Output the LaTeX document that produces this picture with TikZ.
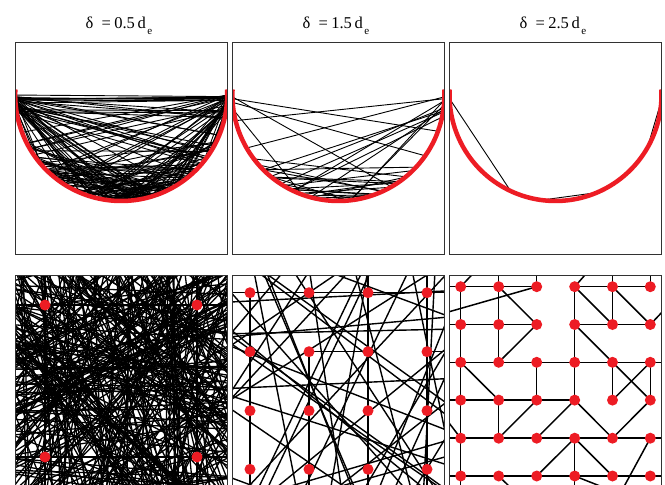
\documentclass[tikz,border=0pt]{standalone}
\usepackage{fontspec}
\setmainfont{Liberation Serif}
\definecolor{dotred}{RGB}{237,28,36}
\definecolor{frame}{RGB}{50,50,50}
\tikzset{
  frm/.style={draw=frame, line width=0.9pt},
  chord/.style={black, line width=0.9pt},
  rline/.style={black, line width=1.4pt},
  gline/.style={black, line width=1.5pt},
  redarc/.style={dotred, line width=4.5pt},
  rdot/.style={circle, fill=dotred, inner sep=0pt, minimum size=11pt},
  ttl/.style={font=\fontsize{16.5}{18}\selectfont, anchor=base, inner sep=0pt},
}
\newcommand{\ttltext}[1]{δ\hspace{0.5em}=\hspace{0.2em}#1\,d\kern1.5pt\raisebox{-6pt}{\fontsize{11}{11}\selectfont e}}
\begin{document}
\begin{tikzpicture}[x=1pt,y=-1pt]
\useasboundingbox (0,0) rectangle (665,485);
\fill[white] (0,0) rectangle (665,485);

% titles
\node[ttl] (t1) at (119,28.5) {\ttltext{0.5}};
\node[ttl] (t2) at (336,28.5) {\ttltext{1.5}};
\node[ttl] (t3) at (553,28.5) {\ttltext{2.5}};

% ---------------- top row ----------------
% panel 1
\begin{scope}
\clip (15,42.5) rectangle (227.5,254.5);
\def\cx{121.2}\def\cy{95}\def\R{106}
\pgfmathsetseed{11}
\foreach \k in {1,...,38}{
  \pgfmathsetmacro\ta{180-10*rnd}
  \pgfmathsetmacro\tb{2+150*rnd}
  \draw[chord] ({\cx+\R*cos(\ta)},{\cy+\R*sin(\ta)}) -- ({\cx+\R*cos(\tb)},{\cy+\R*sin(\tb)});
}
\foreach \k in {1,...,38}{
  \pgfmathsetmacro\ta{10*rnd}
  \pgfmathsetmacro\tb{30+148*rnd}
  \draw[chord] ({\cx+\R*cos(\ta)},{\cy+\R*sin(\ta)}) -- ({\cx+\R*cos(\tb)},{\cy+\R*sin(\tb)});
}
\foreach \k in {1,...,70}{
  \pgfmathsetmacro\ta{25+65*rnd}
  \pgfmathsetmacro\tb{90+65*rnd}
  \draw[chord] ({\cx+\R*cos(\ta)},{\cy+\R*sin(\ta)}) -- ({\cx+\R*cos(\tb)},{\cy+\R*sin(\tb)});
}
\foreach \k in {1,...,8}{
  \pgfmathsetmacro\ta{180-4*rnd}
  \pgfmathsetmacro\tb{4*rnd}
  \draw[chord] ({\cx+\R*cos(\ta)},{\cy+\R*sin(\ta)}) -- ({\cx+\R*cos(\tb)},{\cy+\R*sin(\tb)});
}
\draw[redarc] plot[domain=-3:183, samples=100] ({\cx+\R*cos(\x)},{\cy+\R*sin(\x)});
\end{scope}

% panel 2
\begin{scope}
\clip (232.3,42.5) rectangle (444.5,254.5);
\def\cx{338.4}\def\cy{95}\def\R{106}
\pgfmathsetseed{5}
\foreach \ta/\tb in {179/60, 178/20, 176/35, 1/150, 2/166, 172/110}{
  \draw[chord] ({\cx+\R*cos(\ta)},{\cy+\R*sin(\ta)}) -- ({\cx+\R*cos(\tb)},{\cy+\R*sin(\tb)});
}
\foreach \k in {1,...,8}{
  \pgfmathsetmacro\ta{2+14*rnd}
  \pgfmathsetmacro\tb{80+60*rnd}
  \draw[chord] ({\cx+\R*cos(\ta)},{\cy+\R*sin(\ta)}) -- ({\cx+\R*cos(\tb)},{\cy+\R*sin(\tb)});
}
\foreach \k in {1,...,18}{
  \pgfmathsetmacro\ta{35+50*rnd}
  \pgfmathsetmacro\tb{95+50*rnd}
  \draw[chord] ({\cx+\R*cos(\ta)},{\cy+\R*sin(\ta)}) -- ({\cx+\R*cos(\tb)},{\cy+\R*sin(\tb)});
}
\draw[redarc] plot[domain=-3:183, samples=100] ({\cx+\R*cos(\x)},{\cy+\R*sin(\x)});
\end{scope}

% panel 3
\begin{scope}
\clip (449.3,42.5) rectangle (661.7,254.5);
\def\cx{555.5}\def\cy{95}\def\R{106}
\foreach \ta/\tb in {178/115, 97.5/67, 3/30}{
  \draw[chord] ({\cx+\R*cos(\ta)},{\cy+\R*sin(\ta)}) -- ({\cx+\R*cos(\tb)},{\cy+\R*sin(\tb)});
}
\draw[redarc] plot[domain=-3:183, samples=100] ({\cx+\R*cos(\x)},{\cy+\R*sin(\x)});
\end{scope}

\draw[frm] (15,42.5) rectangle (227.5,254.5);
\draw[frm] (232.3,42.5) rectangle (444.5,254.5);
\draw[frm] (449.3,42.5) rectangle (661.7,254.5);

% ---------------- bottom row ----------------
% panel 1
\begin{scope}
\clip (15,275) rectangle (227.5,487.5);
\pgfmathsetseed{21}
\foreach \k in {1,...,270}{
  \pgfmathsetmacro\px{15+212*rnd}
  \pgfmathsetmacro\py{275+212*rnd}
  \pgfmathsetmacro\pa{180*rnd}
  \draw[black, line width=1.3pt] ({\px+400*cos(\pa)},{\py+400*sin(\pa)}) -- ({\px-400*cos(\pa)},{\py-400*sin(\pa)});
}
\draw[rline] (15,305) -- (227.5,305) (15,457) -- (227.5,457) (45,275) -- (45,487) (197,275) -- (197,487);
\end{scope}
\draw[frm] (15,275) rectangle (227.5,487.5);
\foreach \i/\x in {0/45,1/197}{
  \foreach \j/\y in {0/305,1/457}{
    \node[rdot] (a\i\j) at (\x,\y) {};
  }
}

% panel 2
\foreach \i/\x in {0/250,1/309,2/368,3/427}{
  \foreach \j/\y in {0/292.7,1/351.7,2/410.7,3/469.3}{
    \coordinate (q\i\j) at (\x,\y);
  }
  \coordinate (qT\i) at (\x,275);
  \coordinate (qB\i) at (\x,487.5);
}
\foreach \j/\y in {0/292.7,1/351.7,2/410.7,3/469.3}{
  \coordinate (qL\j) at (232.3,\y);
  \coordinate (qR\j) at (444.5,\y);
}
\begin{scope}
\clip (232.3,275) rectangle (444.5,487.5);
\pgfmathsetseed{33}
\foreach \k in {1,...,42}{
  \pgfmathsetmacro\px{232.3+212*rnd}
  \pgfmathsetmacro\py{275+212*rnd}
  \pgfmathsetmacro\pa{180*rnd}
  \draw[rline] ({\px+400*cos(\pa)},{\py+400*sin(\pa)}) -- ({\px-400*cos(\pa)},{\py-400*sin(\pa)});
}
\foreach \a/\b in {q00/qB0, q11/qB1, qT2/qB2, qT3/qB3, qL0/qR0, q11/q21, q31/qR1}{
  \draw[gline] (\a) -- (\b);
}
\end{scope}
\draw[frm] (232.3,275) rectangle (444.5,487.5);
\foreach \i in {0,...,3}{
  \foreach \j in {0,...,3}{
    \node[rdot] (b\i\j) at (q\i\j) {};
  }
}

% panel 3
\foreach \i/\x in {0/460.7,1/498.7,2/536.7,3/574.7,4/612.5,5/650.3}{
  \foreach \j/\y in {0/286.7,1/324.5,2/362.3,3/400.1,4/438.2,5/476}{
    \coordinate (p\i\j) at (\x,\y);
  }
  \coordinate (pT\i) at (\x,275);
  \coordinate (pB\i) at (\x,487.5);
}
\foreach \j/\y in {0/286.7,1/324.5,2/362.3,3/400.1,4/438.2,5/476}{
  \coordinate (pL\j) at (449.3,\y);
  \coordinate (pR\j) at (661.7,\y);
}
\coordinate (e1) at (471.7,275);
\coordinate (e2) at (449.3,311.7);
\coordinate (e3) at (585,275);
\coordinate (e4) at (661.7,312.5);
\coordinate (e5) at (623.5,487.5);
\coordinate (e6) at (449.3,423.3);
\coordinate (e7) at (517,494);
\coordinate (e8) at (600,486);
\begin{scope}
\clip (449.3,275) rectangle (661.7,487.5);
\foreach \a/\b in {
  pL0/p20, p30/p50,
  pL1/p21, p31/p51,
  pL2/pR2,
  pL3/p33,
  pL4/pR4,
  pL5/pR5,
  p00/pB0, pT1/p12, p13/p14, pT2/p20, p22/p23,
  p30/p33, p34/pB3, pT4/p41, p42/p43, pT5/p50, p52/p53,
  p00/e1, e2/p20, p10/p21, p30/e3, p30/p41, p40/p51, p51/e4,
  p21/p12, p31/p42, p42/p53, p02/p13, p52/p43,
  p14/p23, p24/p33, p33/p44, p44/p53, p34/p25, p34/p45,
  p54/e5, e6/p04, p15/e7, p35/e8}{
  \draw[gline] (\a) -- (\b);
}
\end{scope}
\draw[frm] (449.3,275) rectangle (661.7,487.5);
\foreach \i in {0,...,5}{
  \foreach \j in {0,...,5}{
    \node[rdot] (c\i\j) at (p\i\j) {};
  }
}
\end{tikzpicture}
\end{document}
